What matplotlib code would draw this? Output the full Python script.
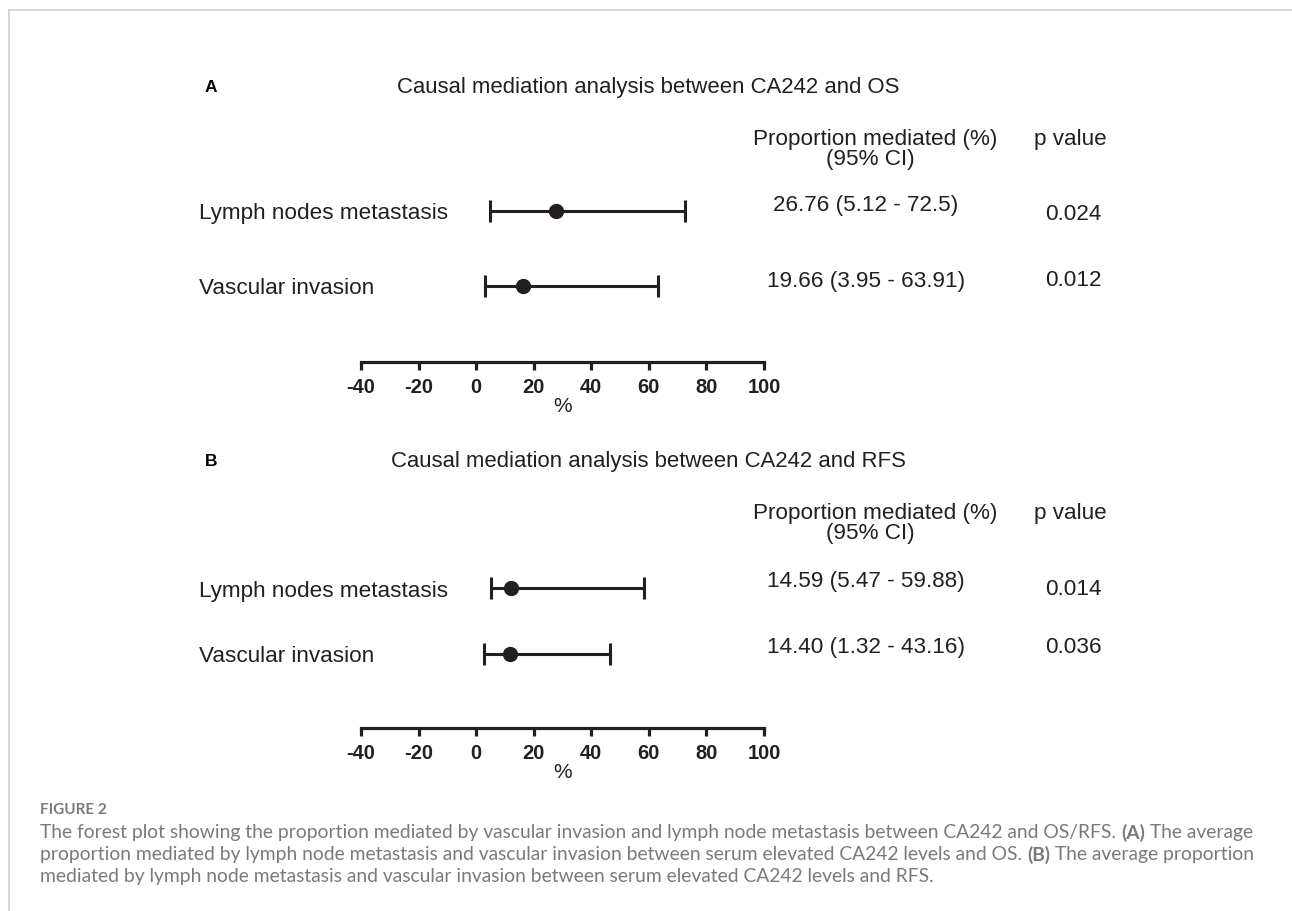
import matplotlib
matplotlib.use("Agg")
import matplotlib.pyplot as plt
from matplotlib.lines import Line2D
from matplotlib import font_manager

# ---------------- data ----------------
mediators = ["Lymph nodes metastasis", "Vascular invasion"]
# panel A (OS) - positions
est_A = [27.7, 16.2]
lo_A = [4.9, 3.1]
hi_A = [72.6, 63.3]
ci_text_A = ["26.76 (5.12 - 72.5)", "19.66 (3.95 - 63.91)"]
p_text_A = ["0.024", "0.012"]
# panel B (RFS)
est_B = [12.2, 11.7]
lo_B = [5.2, 2.7]
hi_B = [58.3, 46.4]
ci_text_B = ["14.59 (5.47 - 59.88)", "14.40 (1.32 - 43.16)"]
p_text_B = ["0.014", "0.036"]
xticks = [-40, -20, 0, 20, 40, 60, 80, 100]
titles = ["Causal mediation analysis between CA242 and OS",
          "Causal mediation analysis between CA242 and RFS"]
panel_letters = ["A", "B"]

W, H = 1292, 912
fig = plt.figure(figsize=(W / 100, H / 100), dpi=100)
fig.patch.set_facecolor("white")

INK = "#231f20"
FONT = "Liberation Sans"
FS = 16.2

# condensed font for the axis numbers if present
names = {f.name for f in font_manager.fontManager.ttflist}
if "Liberation Sans Narrow" in names:
    TICKFONT, TICKFS, PCTFS = "Liberation Sans Narrow", 16.5, 16.5
else:
    TICKFONT, TICKFS, PCTFS = "Liberation Sans", 14.5, 15

def fx(px):
    return px / W

def fy(py):
    return 1 - py / H

# frame lines of the figure page
fig.add_artist(Line2D([fx(9), fx(9)], [fy(11), fy(912)], color="#d0d0d0", lw=1.2))
fig.add_artist(Line2D([fx(9), fx(1292)], [fy(11), fy(11)], color="#d0d0d0", lw=1.2))

panels = [
    dict(est=est_A, lo=lo_A, hi=hi_A, ci=ci_text_A, p=p_text_A,
         top=87, rows=(212, 287), axis=363,
         ci_y=(206, 281), p_y=(214, 281)),
    dict(est=est_B, lo=lo_B, hi=hi_B, ci=ci_text_B, p=p_text_B,
         top=461, rows=(589, 655), axis=729,
         ci_y=(582, 648), p_y=(590, 648)),
]

x0, x1 = 361, 764
for k, pn in enumerate(panels):
    r0, r1 = pn["rows"]
    sp = r1 - r0
    top_px = r0 - sp * 0.5
    bot_px = pn["axis"]
    ax = fig.add_axes([fx(x0), fy(bot_px), fx(x1 - x0), (bot_px - top_px) / H])
    ax.set_xlim(-40, 100)
    ax.set_ylim((bot_px - r0) / sp, -0.5)
    ypos = list(range(len(mediators)))
    xerr = [[e - l for e, l in zip(pn["est"], pn["lo"])],
            [h - e for e, h in zip(pn["est"], pn["hi"])]]
    ax.errorbar(pn["est"], ypos, xerr=xerr, fmt="o", color=INK, ecolor=INK,
                elinewidth=2.2, capsize=8, capthick=2.2, markersize=10, clip_on=False)
    for s in ["top", "right", "left"]:
        ax.spines[s].set_visible(False)
    ax.spines["bottom"].set_linewidth(2.3)
    ax.spines["bottom"].set_color(INK)
    ax.set_yticks([])
    ax.set_xticks(xticks)
    ax.set_xticklabels([str(t) for t in xticks], fontfamily=TICKFONT,
                       fontweight="bold", fontsize=TICKFS, color=INK)
    ax.tick_params(axis="x", length=6, width=2.3, color=INK, pad=5)
    ax.set_facecolor("none")
    ax.set_xlabel("%", fontfamily=TICKFONT, fontsize=PCTFS, color=INK, labelpad=0)

    t = pn["top"]
    fig.text(fx(211), fy(t), panel_letters[k], fontfamily=FONT, fontweight="bold",
             fontsize=12.5, color="black", ha="center", va="center")
    fig.text(fx(648), fy(t), titles[k], fontfamily=FONT, fontsize=15.9,
             color=INK, ha="center", va="center")
    fig.text(fx(875), fy(t + 52), "Proportion mediated (%)", fontfamily=FONT,
             fontsize=FS, color=INK, ha="center", va="center")
    fig.text(fx(870), fy(t + 73), "(95% CI)", fontfamily=FONT,
             fontsize=FS, color=INK, ha="center", va="center")
    fig.text(fx(1070), fy(t + 52), "p value", fontfamily=FONT,
             fontsize=FS, color=INK, ha="center", va="center")
    for i, name in enumerate(mediators):
        fig.text(fx(199), fy(pn["rows"][i] + 2), name, fontfamily=FONT,
                 fontsize=FS, color=INK, ha="left", va="center")
        fig.text(fx(866), fy(pn["ci_y"][i]), pn["ci"][i], fontfamily=FONT,
                 fontsize=FS, color=INK, ha="center", va="center")
        fig.text(fx(1073), fy(pn["p_y"][i]), pn["p"][i], fontfamily=FONT,
                 fontsize=FS, color=INK, ha="center", va="center")

# ---------------- caption ----------------
CAP = "Lato"
CAPC = "#7a7a7a"
fig.text(fx(40), fy(810), "FIGURE 2", fontfamily=CAP, fontweight="bold",
         fontsize=11, color=CAPC, ha="left", va="center")

cap_lines = [
    [("The forest plot showing the proportion mediated by vascular invasion and lymph node metastasis between CA242 and OS/RFS. ", "normal"),
     ("(A)", "bold"), (" The average", "normal")],
    [("proportion mediated by lymph node metastasis and vascular invasion between serum elevated CA242 levels and OS. ", "normal"),
     ("(B)", "bold"), (" The average proportion", "normal")],
    [("mediated by lymph node metastasis and vascular invasion between serum elevated CA242 levels and RFS.", "normal")],
]
cap_y = [833, 855, 877]
renderer = fig.canvas.get_renderer()
for line, yy in zip(cap_lines, cap_y):
    xcur = 40
    for txt, wt in line:
        tt = fig.text(fx(xcur), fy(yy), txt, fontfamily=CAP, fontweight=wt,
                      fontsize=13.9, color=CAPC, ha="left", va="center")
        bb = tt.get_window_extent(renderer=renderer)
        xcur += bb.width

fig.savefig("out.png", dpi=100, facecolor="white")
